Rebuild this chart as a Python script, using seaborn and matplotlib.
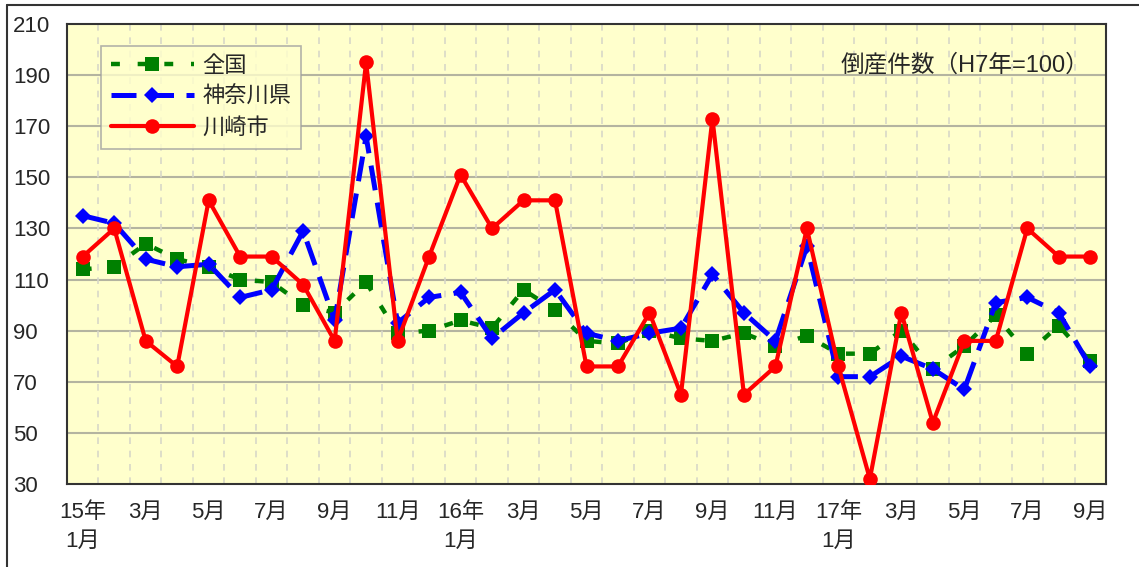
import numpy as np
import pandas as pd
import matplotlib
matplotlib.use("Agg")
import matplotlib.pyplot as plt
from matplotlib.lines import Line2D
from matplotlib.ticker import FixedLocator, NullFormatter
import seaborn as sns

# data (H7 = 100)
months = ["15年\n1月", "2月", "3月", "4月", "5月", "6月", "7月", "8月", "9月", "10月", "11月", "12月",
          "16年\n1月", "2月", "3月", "4月", "5月", "6月", "7月", "8月", "9月", "10月", "11月", "12月",
          "17年\n1月", "2月", "3月", "4月", "5月", "6月", "7月", "8月", "9月"]
zenkoku = [114, 115, 124, 118, 115, 110, 109, 100, 97, 109, 89, 90,
           94, 91, 106, 98, 86, 85, 90, 87, 86, 89, 84, 88,
           81, 81, 90, 75, 84, 96, 81, 92, 78]
kanagawa = [135, 132, 118, 115, 116, 103, 106, 129, 94, 166, 93, 103,
            105, 87, 97, 106, 89, 86, 89, 91, 112, 97, 86, 123,
            72, 72, 80, 75, 67, 101, 103, 97, 76]
kawasaki = [119, 130, 86, 76, 141, 119, 119, 108, 86, 195, 86, 119,
            151, 130, 141, 141, 76, 76, 97, 65, 173, 65, 76, 130,
            76, 32, 97, 54, 86, 86, 130, 119, 119]
series_names = ["全国", "神奈川県", "川崎市"]

df = pd.DataFrame({"idx": np.arange(len(months)),
                   "全国": zenkoku, "神奈川県": kanagawa, "川崎市": kawasaki})

sns.set_style("white")
plt.rcParams['font.family'] = ['Liberation Sans', 'Noto Sans CJK JP', 'DejaVu Sans']

fig = plt.figure(figsize=(11.39, 5.67), dpi=100)
ax = fig.add_axes([67 / 1139, 1 - 484 / 567, (1106 - 67) / 1139, (484 - 24) / 567])
ax.set_facecolor("#FFFFCC")

styles = {
    "全国": dict(color="#008000", marker="s", markersize=10.5, linewidth=3.2,
               linestyle=(0, (2.0, 4.0))),
    "神奈川県": dict(color="#0000FF", marker="D", markersize=8.5, linewidth=3.6,
                 linestyle=(0, (5, 2.5))),
    "川崎市": dict(color="#FF0000", marker="o", markersize=10.5, linewidth=3.0,
                linestyle="-"),
}

handles = []
for i, name in enumerate(series_names):
    st = styles[name]
    sns.lineplot(data=df, x="idx", y=name, ax=ax, color=st["color"], marker=st["marker"],
                 markersize=st["markersize"], linewidth=st["linewidth"],
                 linestyle=st["linestyle"], markeredgewidth=0, zorder=3 + i)
    handles.append(Line2D([], [], color=st["color"], marker=st["marker"],
                          markersize=st["markersize"], linewidth=st["linewidth"],
                          linestyle=st["linestyle"], markeredgewidth=0))

ax.set_xlim(-0.5, len(months) - 0.5)
ax.set_ylim(30, 210)
ax.set_yticks(np.arange(30, 211, 20))

# month labels every 2 months, ticks at category boundaries
label_pos = np.arange(0, len(months), 2)
ax.set_xticks(label_pos)
ax.set_xticklabels([months[i] for i in label_pos], linespacing=1.5)
ax.xaxis.set_minor_locator(FixedLocator(np.arange(0.5, len(months) - 0.5, 1)))
ax.xaxis.set_minor_formatter(NullFormatter())
ax.tick_params(axis="x", which="major", length=0, pad=13, labelsize=16)
ax.tick_params(axis="x", which="minor", direction="in", length=8, width=1.2, color="#333333")
ax.tick_params(axis="y", which="major", direction="in", length=8, width=1.2,
               color="#333333", pad=39, labelsize=16)
for lab in ax.get_yticklabels():
    lab.set_horizontalalignment("left")

ax.set_xlabel("")
ax.set_ylabel("")

# grid: solid horizontal, dashed vertical at month boundaries
for y in np.arange(50, 210, 20):
    ax.axhline(y, color="#B4B4A0", linewidth=1.5, zorder=1)
for xb in np.arange(0.5, len(months) - 0.5, 1):
    ax.axvline(xb, color="#D8D8C8", linewidth=1.2, linestyle=(0, (4, 4)), zorder=1)

for sp in ax.spines.values():
    sp.set_color("#333333")
    sp.set_linewidth(1.5)
    sp.set_visible(True)

leg = ax.legend(handles, series_names, loc="upper left", bbox_to_anchor=(0.033, 0.953),
                borderaxespad=0, fontsize=16, handlelength=3.7, frameon=True, fancybox=False,
                borderpad=0.45, labelspacing=0.45, handletextpad=0.4)
leg.get_frame().set_facecolor("#FFFFCC")
leg.get_frame().set_edgecolor("#A0A0A0")
leg.get_frame().set_linewidth(1.2)
leg.set_zorder(10)

ax.text(0.984, 0.91, "倒産件数（H7年=100）", transform=ax.transAxes, ha="right",
        va="center", fontsize=17, zorder=10)

# outer frame lines (top and left)
fig.add_artist(Line2D([7 / 1139, 1], [1 - 5 / 567, 1 - 5 / 567], color="#333333", linewidth=1.5))
fig.add_artist(Line2D([7 / 1139, 7 / 1139], [0, 1 - 5 / 567], color="#333333", linewidth=1.5))

fig.savefig("out.png", dpi=100, facecolor="white")
